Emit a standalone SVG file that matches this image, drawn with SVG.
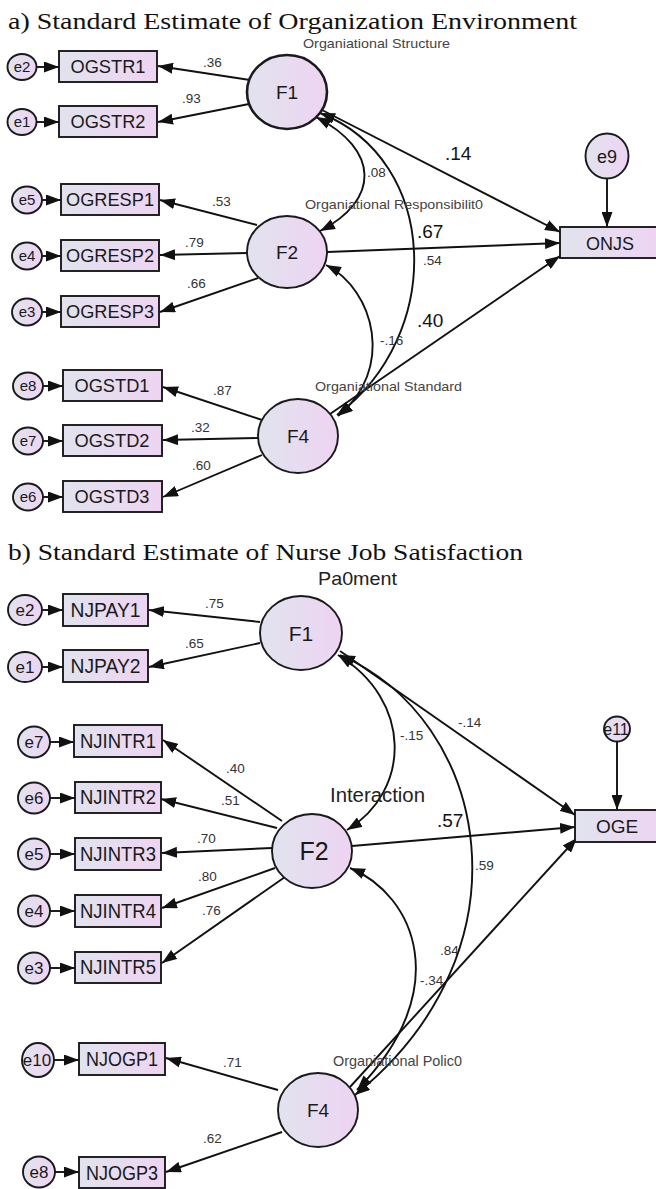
<svg xmlns="http://www.w3.org/2000/svg" width="656" height="1189" viewBox="0 0 656 1189">
<defs>
<linearGradient id="g" x1="0" y1="0" x2="1" y2="0">
<stop offset="0" stop-color="#e1e3ee"/>
<stop offset="1" stop-color="#eed4f2"/>
</linearGradient>
<marker id="ah" viewBox="0 0 15 11" refX="15" refY="5.5" markerWidth="15" markerHeight="11" orient="auto-start-reverse" markerUnits="userSpaceOnUse">
<path d="M0,0 L15,5.5 L0,11 z" fill="#111"/>
</marker>
<style>
.n ellipse, .n rect { fill: url(#g); stroke: #1a1a1a; stroke-width: 1.9; }
.n text { font-family: "Liberation Sans", Arial, sans-serif; fill: #1a1a1a; text-anchor: middle; }
.bx { font-size: 18px; }
.ev { font-size: 15px; }
.c line, .c path { stroke: #111; stroke-width: 1.9; fill: none; marker-end: url(#ah); }
.c .d { marker-start: url(#ah); }
.lb { font-family: "Liberation Sans", Arial, sans-serif; font-size: 13.5px; fill: #333; }
.bg { font-family: "Liberation Sans", Arial, sans-serif; font-size: 19px; fill: #111; }
.gp { font-family: "Liberation Sans", Arial, sans-serif; font-size: 13px; fill: #444; }
.ti { font-family: "Liberation Serif", "Times New Roman", serif; font-size: 24px; fill: #111; }
</style>
</defs>
<rect x="0" y="0" width="656" height="1189" fill="#ffffff"/>

<!-- titles -->
<text class="ti" x="8" y="29" textLength="569" lengthAdjust="spacingAndGlyphs">a) Standard Estimate of Organization Environment</text>
<text class="ti" x="8" y="560" textLength="515" lengthAdjust="spacingAndGlyphs">b) Standard Estimate of Nurse Job Satisfaction</text>

<!-- ===== connectors (a) ===== -->
<g id="connectors-a" class="c">
<line x1="36" y1="67" x2="59" y2="67"/>
<line x1="36" y1="122" x2="59" y2="122"/>
<line x1="42" y1="200" x2="61" y2="200"/>
<line x1="42" y1="256" x2="61" y2="256"/>
<line x1="42" y1="312" x2="61" y2="312"/>
<line x1="43" y1="386" x2="63" y2="386"/>
<line x1="43" y1="441" x2="63" y2="441"/>
<line x1="43" y1="497" x2="63" y2="497"/>
<line x1="250" y1="80" x2="158" y2="66"/>
<line x1="249" y1="104" x2="158" y2="122"/>
<line x1="257" y1="225" x2="160" y2="200"/>
<line x1="247" y1="253" x2="160" y2="255"/>
<line x1="258" y1="278" x2="160" y2="312"/>
<line x1="262" y1="420" x2="163" y2="387"/>
<line x1="258" y1="438" x2="163" y2="440"/>
<line x1="262" y1="455" x2="163" y2="497"/>
<line x1="607" y1="179" x2="607" y2="227"/>
<line x1="322" y1="110" x2="560" y2="232"/>
<line x1="327" y1="252" x2="560" y2="243"/>
<line x1="330" y1="414" x2="560" y2="256"/>
<path class="d" d="M316,117 C380,150 380,200 320,231"/>
<path class="d" d="M320,113 C440,160 445,335 337,415"/>
<path class="d" d="M326,265 C375,290 395,370 338,416"/>
</g>

<!-- ===== nodes (a) ===== -->
<g id="a-e2" class="n"><ellipse cx="22" cy="67" rx="14.5" ry="13"/><text class="ev" x="22" y="72">e2</text></g>
<g id="a-e1" class="n"><ellipse cx="22" cy="122" rx="14.5" ry="13"/><text class="ev" x="22" y="127">e1</text></g>
<g id="a-OGSTR1" class="n"><rect x="59" y="51" width="98" height="31"/><text class="bx" x="108" y="73" textLength="75" lengthAdjust="spacingAndGlyphs">OGSTR1</text></g>
<g id="a-OGSTR2" class="n"><rect x="59" y="106" width="98" height="31"/><text class="bx" x="108" y="128" textLength="75" lengthAdjust="spacingAndGlyphs">OGSTR2</text></g>
<g id="a-e5" class="n"><ellipse cx="27" cy="200" rx="15" ry="13.5"/><text class="ev" x="27" y="205">e5</text></g>
<g id="a-e4" class="n"><ellipse cx="27" cy="256" rx="15" ry="13.5"/><text class="ev" x="27" y="261">e4</text></g>
<g id="a-e3" class="n"><ellipse cx="27" cy="312" rx="15" ry="13.5"/><text class="ev" x="27" y="317">e3</text></g>
<g id="a-OGRESP1" class="n"><rect x="61" y="184" width="98" height="31"/><text class="bx" x="110" y="206" textLength="88" lengthAdjust="spacingAndGlyphs">OGRESP1</text></g>
<g id="a-OGRESP2" class="n"><rect x="61" y="240" width="98" height="31"/><text class="bx" x="110" y="262" textLength="88" lengthAdjust="spacingAndGlyphs">OGRESP2</text></g>
<g id="a-OGRESP3" class="n"><rect x="61" y="296" width="98" height="31"/><text class="bx" x="110" y="318" textLength="88" lengthAdjust="spacingAndGlyphs">OGRESP3</text></g>
<g id="a-e8" class="n"><ellipse cx="28" cy="386" rx="15" ry="13.5"/><text class="ev" x="28" y="391">e8</text></g>
<g id="a-e7" class="n"><ellipse cx="28" cy="441" rx="15" ry="13.5"/><text class="ev" x="28" y="446">e7</text></g>
<g id="a-e6" class="n"><ellipse cx="28" cy="497" rx="15" ry="13.5"/><text class="ev" x="28" y="502">e6</text></g>
<g id="a-OGSTD1" class="n"><rect x="63" y="370" width="99" height="31"/><text class="bx" x="112" y="392" textLength="75" lengthAdjust="spacingAndGlyphs">OGSTD1</text></g>
<g id="a-OGSTD2" class="n"><rect x="63" y="425" width="99" height="31"/><text class="bx" x="112" y="447" textLength="75" lengthAdjust="spacingAndGlyphs">OGSTD2</text></g>
<g id="a-OGSTD3" class="n"><rect x="63" y="481" width="99" height="31"/><text class="bx" x="112" y="503" textLength="75" lengthAdjust="spacingAndGlyphs">OGSTD3</text></g>
<g id="a-F1" class="n"><ellipse cx="287" cy="92" rx="40" ry="37" style="stroke-width:2.6"/><text x="287" y="99" style="font-size:19px">F1</text></g>
<g id="a-F2" class="n"><ellipse cx="287" cy="252" rx="40" ry="36"/><text x="287" y="259" style="font-size:19px">F2</text></g>
<g id="a-F4" class="n"><ellipse cx="298" cy="436" rx="40" ry="37"/><text x="298" y="443" style="font-size:19px">F4</text></g>
<g id="a-ONJS" class="n"><rect x="560" y="227" width="100" height="31"/><text class="bx" x="610" y="250">ONJS</text></g>
<g id="a-e9" class="n"><ellipse cx="607" cy="156" rx="21.5" ry="22.5"/><text x="607" y="163" style="font-size:18px">e9</text></g>

<!-- labels (a) -->
<g id="labels-a">
<text class="gp" x="303" y="48" textLength="147" lengthAdjust="spacingAndGlyphs">Organiational Structure</text>
<text class="gp" x="305" y="209" textLength="178" lengthAdjust="spacingAndGlyphs">Organiational Responsibilit0</text>
<text class="gp" x="315" y="391" textLength="147" lengthAdjust="spacingAndGlyphs">Organiational Standard</text>
<text class="lb" x="203" y="67">.36</text>
<text class="lb" x="182" y="103">.93</text>
<text class="lb" x="212" y="206">.53</text>
<text class="lb" x="185" y="247">.79</text>
<text class="lb" x="187" y="288">.66</text>
<text class="lb" x="213" y="395">.87</text>
<text class="lb" x="191" y="432">.32</text>
<text class="lb" x="192" y="470">.60</text>
<text class="lb" x="367" y="177">.08</text>
<text class="lb" x="423" y="265">.54</text>
<text class="lb" x="380" y="345">-.16</text>
<text class="bg" x="445" y="160">.14</text>
<text class="bg" x="417" y="238">.67</text>
<text class="bg" x="417" y="327">.40</text>
</g>

<!-- ===== connectors (b) ===== -->
<g id="connectors-b" class="c">
<line x1="42" y1="610" x2="63" y2="610"/>
<line x1="42" y1="667" x2="63" y2="667"/>
<line x1="50" y1="742" x2="74" y2="742"/>
<line x1="50" y1="798" x2="75" y2="798"/>
<line x1="50" y1="854" x2="75" y2="854"/>
<line x1="50" y1="911" x2="75" y2="911"/>
<line x1="50" y1="968" x2="75" y2="968"/>
<line x1="54" y1="1060" x2="79" y2="1060"/>
<line x1="55" y1="1172" x2="79" y2="1172"/>
<line x1="260" y1="622" x2="149" y2="610"/>
<line x1="260" y1="643" x2="149" y2="667"/>
<line x1="282" y1="821" x2="163" y2="740"/>
<line x1="277" y1="828" x2="161" y2="799"/>
<line x1="272" y1="848" x2="162" y2="853"/>
<line x1="275" y1="868" x2="162" y2="908"/>
<line x1="285" y1="877" x2="162" y2="963"/>
<line x1="278" y1="1090" x2="166" y2="1058"/>
<line x1="282" y1="1132" x2="166" y2="1172"/>
<line x1="617" y1="742" x2="617" y2="810"/>
<line x1="340" y1="651" x2="575" y2="815"/>
<line x1="352" y1="846" x2="575" y2="827"/>
<line x1="350" y1="1087" x2="577" y2="838"/>
<path class="d" d="M338,655 C412,700 412,790 347,830"/>
<path class="d" d="M340,655 C490,720 535,950 355,1095"/>
<path class="d" d="M350,868 C415,895 455,990 357,1090"/>
</g>

<!-- ===== nodes (b) ===== -->
<g id="b-e2" class="n"><ellipse cx="25" cy="610" rx="17" ry="15"/><text class="ev" x="25" y="616" style="font-size:17px">e2</text></g>
<g id="b-e1" class="n"><ellipse cx="25" cy="667" rx="17" ry="15"/><text class="ev" x="25" y="673" style="font-size:17px">e1</text></g>
<g id="b-NJPAY1" class="n"><rect x="63" y="594" width="85" height="32"/><text class="bx" x="105.5" y="617" style="font-size:21px" textLength="70" lengthAdjust="spacingAndGlyphs">NJPAY1</text></g>
<g id="b-NJPAY2" class="n"><rect x="63" y="650" width="85" height="32"/><text class="bx" x="105.5" y="673" style="font-size:21px" textLength="70" lengthAdjust="spacingAndGlyphs">NJPAY2</text></g>
<g id="b-e7" class="n"><ellipse cx="34" cy="742" rx="16" ry="15.5"/><text class="ev" x="34" y="748" style="font-size:17px">e7</text></g>
<g id="b-e6" class="n"><ellipse cx="34" cy="798" rx="16" ry="15.5"/><text class="ev" x="34" y="804" style="font-size:17px">e6</text></g>
<g id="b-e5" class="n"><ellipse cx="34" cy="854" rx="16" ry="15.5"/><text class="ev" x="34" y="860" style="font-size:17px">e5</text></g>
<g id="b-e4" class="n"><ellipse cx="34" cy="911" rx="16" ry="15.5"/><text class="ev" x="34" y="917" style="font-size:17px">e4</text></g>
<g id="b-e3" class="n"><ellipse cx="34" cy="968" rx="16" ry="15.5"/><text class="ev" x="34" y="974" style="font-size:17px">e3</text></g>
<g id="b-NJINTR1" class="n"><rect x="74" y="725" width="88" height="32"/><text class="bx" x="118" y="748" style="font-size:21px" textLength="76" lengthAdjust="spacingAndGlyphs">NJINTR1</text></g>
<g id="b-NJINTR2" class="n"><rect x="75" y="782" width="86" height="31"/><text class="bx" x="118" y="804" style="font-size:21px" textLength="76" lengthAdjust="spacingAndGlyphs">NJINTR2</text></g>
<g id="b-NJINTR3" class="n"><rect x="75" y="838" width="86" height="32"/><text class="bx" x="118" y="861" style="font-size:21px" textLength="76" lengthAdjust="spacingAndGlyphs">NJINTR3</text></g>
<g id="b-NJINTR4" class="n"><rect x="75" y="895" width="86" height="32"/><text class="bx" x="118" y="918" style="font-size:21px" textLength="76" lengthAdjust="spacingAndGlyphs">NJINTR4</text></g>
<g id="b-NJINTR5" class="n"><rect x="75" y="952" width="86" height="31"/><text class="bx" x="118" y="974" style="font-size:21px" textLength="76" lengthAdjust="spacingAndGlyphs">NJINTR5</text></g>
<g id="b-e10" class="n"><ellipse cx="38" cy="1060" rx="16" ry="17"/><text class="ev" x="37" y="1066" style="font-size:17px">e10</text></g>
<g id="b-e8" class="n"><ellipse cx="39" cy="1172" rx="16" ry="15.5"/><text class="ev" x="39" y="1178" style="font-size:17px">e8</text></g>
<g id="b-NJOGP1" class="n"><rect x="79" y="1043" width="86" height="32"/><text class="bx" x="122" y="1066" style="font-size:21px" textLength="72" lengthAdjust="spacingAndGlyphs">NJOGP1</text></g>
<g id="b-NJOGP3" class="n"><rect x="79" y="1157" width="86" height="31"/><text class="bx" x="122" y="1180" style="font-size:21px" textLength="72" lengthAdjust="spacingAndGlyphs">NJOGP3</text></g>
<g id="b-F1" class="n"><ellipse cx="301" cy="633" rx="41" ry="37"/><text x="301" y="641" style="font-size:21px">F1</text></g>
<g id="b-F2" class="n"><ellipse cx="312" cy="851" rx="40" ry="37"/><text x="314" y="860" style="font-size:25px">F2</text></g>
<g id="b-F4" class="n"><ellipse cx="318" cy="1110" rx="40" ry="37"/><text x="318" y="1117" style="font-size:19px">F4</text></g>
<g id="b-OGE" class="n"><rect x="575" y="810" width="90" height="32"/><text class="bx" x="617" y="833" style="font-size:19px">OGE</text></g>
<g id="b-e11" class="n"><ellipse cx="617" cy="729" rx="13" ry="12.5"/><text x="616" y="735" style="font-size:16px">e11</text></g>

<!-- labels (b) -->
<g id="labels-b">
<text class="gp" x="318" y="585" style="font-size:19px;fill:#222" textLength="79" lengthAdjust="spacingAndGlyphs">Pa0ment</text>
<text class="gp" x="330" y="802" style="font-size:20px;fill:#222" textLength="95" lengthAdjust="spacingAndGlyphs">Interaction</text>
<text class="gp" x="333" y="1066" style="font-size:15px" textLength="129" lengthAdjust="spacingAndGlyphs">Organiational Polic0</text>
<text class="lb" x="205" y="608">.75</text>
<text class="lb" x="185" y="648">.65</text>
<text class="lb" x="226" y="773">.40</text>
<text class="lb" x="221" y="805">.51</text>
<text class="lb" x="197" y="843">.70</text>
<text class="lb" x="198" y="881">.80</text>
<text class="lb" x="202" y="915">.76</text>
<text class="lb" x="223" y="1067">.71</text>
<text class="lb" x="203" y="1143">.62</text>
<text class="lb" x="458" y="727">-.14</text>
<text class="lb" x="400" y="740">-.15</text>
<text class="lb" x="475" y="870">.59</text>
<text class="lb" x="440" y="955">.84</text>
<text class="lb" x="420" y="985">-.34</text>
<text class="bg" x="437" y="827">.57</text>
</g>
</svg>
